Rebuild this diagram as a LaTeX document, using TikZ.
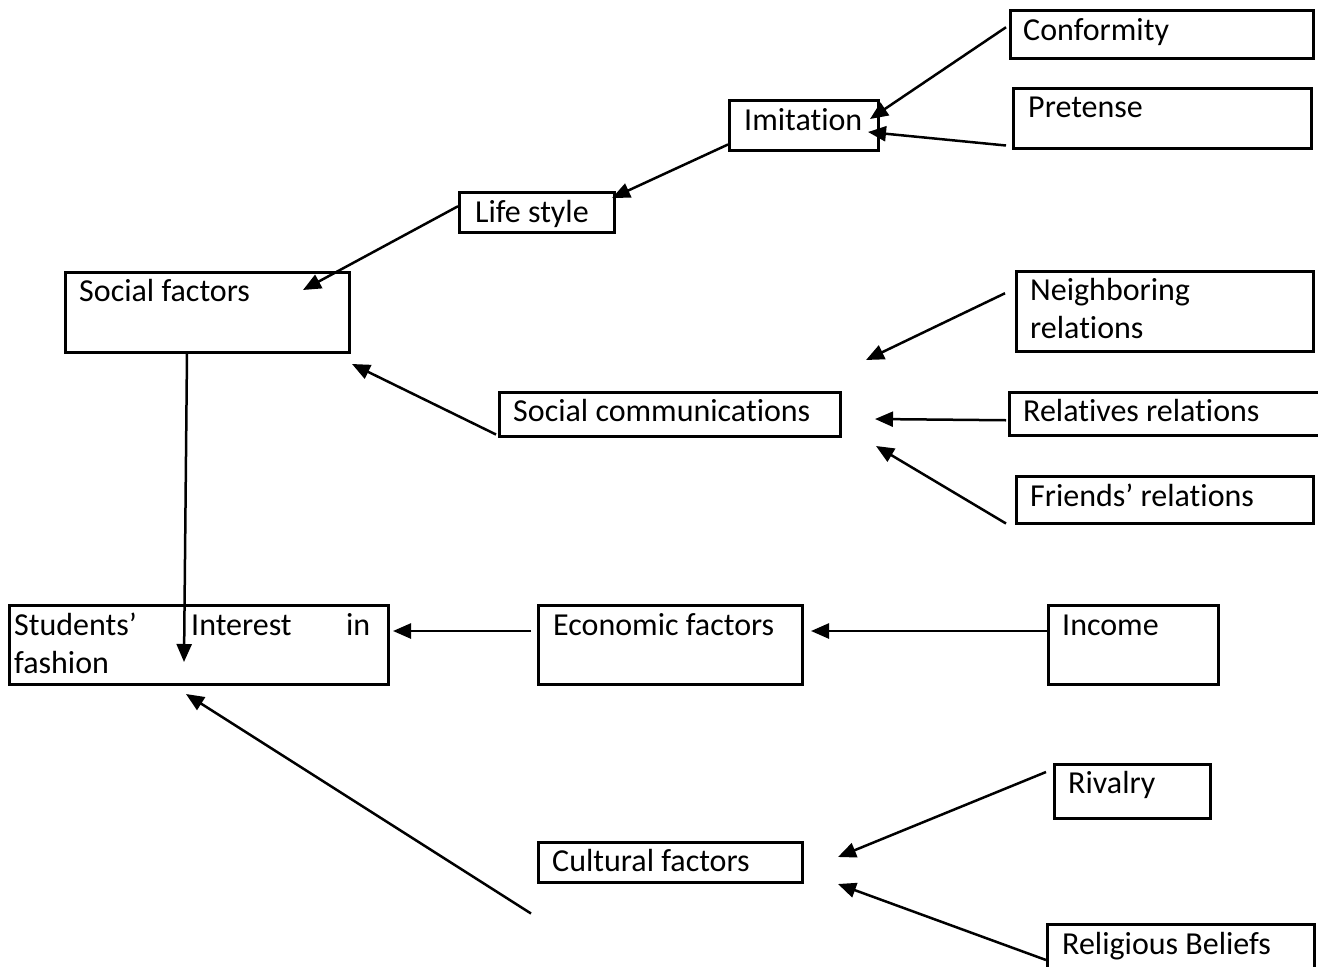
\documentclass[tikz,border=0pt]{standalone}
\usepackage{fontspec}
\setmainfont{Carlito}[Ligatures={NoCommon}]
\usetikzlibrary{arrows.meta,calc}
\newcommand\mkbox[8]{%
  \node[box, minimum width={#4pt-#2pt}, minimum height={#5pt-#3pt}] (#1) at (#2,#3) {};
  \node[txt] (#1-t) at (#6,#7) {#8};}
\begin{document}
\begin{tikzpicture}[x=1pt,y=-1pt,
  box/.style={draw, line width=2.5pt, inner sep=0pt, anchor=north west},
  txt/.style={anchor=base west, inner sep=0pt, font=\fontsize{32}{38}\selectfont, align=left},
  arr/.style={line width=2.5pt, -{Triangle[length=18pt,width=15pt]}}]
\useasboundingbox (0,0) rectangle (1318,967);
\fill[white] (0,0) rectangle (1318,967);

% boxes: name, left, top, right, bottom, text x, baseline (of last line), text
\mkbox{conf}{1009}{9}{1312}{57}{1023}{40}{Conformity}
\mkbox{pret}{1012}{87}{1310}{147}{1028}{117}{Pretense}
\mkbox{imit}{728}{99}{877}{149}{744}{130}{Imitation}
\mkbox{life}{458}{191}{613}{231}{475}{222}{Life style}
\mkbox{sf}{64}{271}{348}{351}{79}{301}{Social factors}
\mkbox{neigh}{1015}{270}{1312}{350}{1030}{338}{Neighboring\\relations}
\mkbox{scom}{498}{391}{839}{435}{513}{421}{Social communications}
\mkbox{rel}{1008}{391}{1340}{434}{1023}{421}{Relatives relations}
\mkbox{fr}{1015}{475}{1312}{522}{1030}{506}{Friends’ relations}
\mkbox{stu}{8}{604}{387}{683}{14}{673}{\makebox[356pt]{Students’\hfill Interest\hfill in}\\fashion}
\mkbox{eco}{537}{604}{801}{683}{553}{635}{Economic factors}
\mkbox{inc}{1047}{604}{1217}{683}{1062}{635}{Income}
\mkbox{riv}{1053}{763}{1209}{817}{1068}{793}{Rivalry}
\mkbox{cul}{537}{841}{801}{881}{552}{871}{Cultural factors}
\mkbox{relig}{1046}{923}{1313}{990}{1062}{954}{Religious Beliefs}

% free arrow tips
\coordinate (t1) at (870,119);
\coordinate (t2) at (868,132);
\coordinate (t3) at (612,198);
\coordinate (t4) at (303,290);
\coordinate (t5) at (352,364);
\coordinate (t6) at (866,360);
\coordinate (t7) at (875,419);
\coordinate (t8) at (876,446);
\coordinate (t9) at (184,662);
\coordinate (t10) at (393,631);
\coordinate (t11) at (811,631);
\coordinate (t12) at (186,694);
\coordinate (t13) at (838,857);
\coordinate (t14) at (838,884);

\draw[arr] ([xshift=-3pt,yshift=7pt]conf.west) -- (t1);
\draw[arr] ([xshift=-6pt,yshift=4pt]pret.south west) -- (t2);
\draw[arr] ([yshift=7pt]imit.south west) -- (t3);
\draw[arr] ([yshift=6pt]life.west) -- (t4);
\draw[arr] ([xshift=-2pt,yshift=3pt]scom.south west) -- (t5);
\draw[arr] ([xshift=-10pt,yshift=18pt]neigh.west) -- (t6);
\draw[arr] ([xshift=-2pt,yshift=-6.5pt]rel.west) -- (t7);
\draw[arr] ([xshift=-9pt,yshift=1pt]fr.south west) -- (t8);
\draw[arr] ([xshift=123pt]sf.south west) -- (t9);
\draw[arr] ([xshift=-6pt,yshift=-27pt]eco.north west) -- (t10);
\draw[arr] ([yshift=-27pt]inc.north west) -- (t11);
\draw[arr] ([xshift=-6pt,yshift=-30pt]cul.south west) -- (t12);
\draw[arr] ([xshift=-7pt,yshift=-9pt]riv.north west) -- (t13);
\draw[arr] ([yshift=-37pt]relig.north west) -- (t14);
\end{tikzpicture}
\end{document}
